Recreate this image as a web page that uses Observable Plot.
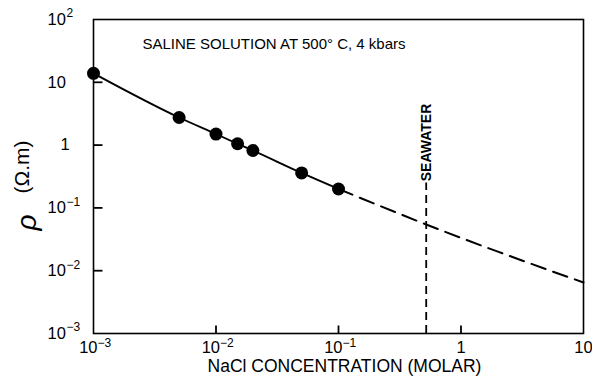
<!DOCTYPE html>
<html>
<head>
<meta charset="utf-8">
<script src="https://cdn.jsdelivr.net/npm/d3@7"></script>
<script src="https://cdn.jsdelivr.net/npm/@observablehq/plot@0.6"></script>
<style>
  html, body { margin: 0; padding: 0; background: #fff; }
  #chart svg { display: block; }
</style>
</head>
<body>
<div id="chart"></div>
<script>
// Measured points (NaCl concentration in molar, resistivity in ohm.m)
const conc = [0.001, 0.005, 0.01, 0.015, 0.02, 0.05, 0.1];
const rho  = [13.9, 2.75, 1.5, 1.05, 0.82, 0.36, 0.2];
// Extrapolated (dashed) curve
const extConc = [0.1, 0.2, 0.52, 1, 2, 5, 10];
const extRho  = [0.2, 0.115, 0.0545, 0.0333, 0.0201, 0.0105, 0.0065];
// Seawater marker
const seawaterConc = 0.52;
const seawaterTop = 0.25;
const seawaterLabelY = 1.1;
// Tick values and labels (base + exponent)
const xTicks = [1e-3, 1e-2, 1e-1, 1, 10];
const xTickBase = ["10", "10", "10", "1", "10"];
const xTickExp  = ["\u22123", "\u22122", "\u22121", "", ""];
const yTicks = [1e-3, 1e-2, 1e-1, 1, 10, 100];
const yTickBase = ["10", "10", "10", "1", "10", "10"];
const yTickExp  = ["\u22123", "\u22122", "\u22121", "", "", "2"];
const xInnerTicks = [1e-2, 1e-1, 1];
const yInnerTicks = [1e-2, 1e-1, 1, 10];

const pts = conc.map((c, i) => ({c, r: rho[i]}));
const ext = extConc.map((c, i) => ({c, r: extRho[i]}));
const xLabels = xTicks.map((t, i) => ({t, base: xTickBase[i], exp: xTickExp[i]}));
const yLabels = yTicks.map((t, i) => ({t, base: yTickBase[i], exp: yTickExp[i]}));

const font = "'Liberation Sans', Arial, sans-serif";
const baseSize = 16.5, expSize = 12;
const W = 592, H = 384, mL = 93, mR = 9, mT = 19, mB = 51;
const xDomain = [1e-3, 10], yDomain = [1e-3, 100];
const yTickLen = 9, xTickLen = 8;

// Standalone scales matching the plot, used to size the inward ticks in pixels
const xs = Plot.scale({x: {type: "log", domain: xDomain, range: [mL, W - mR]}});
const ys = Plot.scale({y: {type: "log", domain: yDomain, range: [H - mB, mT]}});
const yTickEnd = xs.invert(xs.apply(xDomain[0]) + yTickLen);
const xTickEnd = ys.invert(ys.apply(yDomain[0]) - xTickLen);

const chart = Plot.plot({
  width: W,
  height: H,
  marginLeft: mL,
  marginRight: mR,
  marginTop: mT,
  marginBottom: mB,
  style: {fontFamily: font, background: "#fff", color: "#000"},
  x: {type: "log", domain: xDomain, axis: null},
  y: {type: "log", domain: yDomain, axis: null},
  marks: [
    // x tick labels
    Plot.text(xLabels.filter(d => d.exp), {x: "t", frameAnchor: "bottom", dy: 19, dx: 4, text: "base", textAnchor: "end", fontSize: baseSize, fill: "#000"}),
    Plot.text(xLabels.filter(d => d.exp), {x: "t", frameAnchor: "bottom", dy: 13, dx: 4, text: "exp", textAnchor: "start", fontSize: expSize, fill: "#000"}),
    Plot.text(xLabels.filter(d => !d.exp), {x: "t", frameAnchor: "bottom", dy: 19, text: "base", textAnchor: "middle", fontSize: baseSize, fill: "#000"}),
    // y tick labels
    Plot.text(yLabels.filter(d => d.base === "10"), {y: "t", frameAnchor: "left", dx: -46, text: "base", textAnchor: "start", fontSize: baseSize, fill: "#000"}),
    Plot.text(yLabels.filter(d => d.exp), {y: "t", frameAnchor: "left", dx: -27, dy: -6, text: "exp", textAnchor: "start", fontSize: expSize, fill: "#000"}),
    Plot.text(yLabels.filter(d => d.base === "1"), {y: "t", frameAnchor: "left", dx: -33, text: "base", textAnchor: "start", fontSize: baseSize, fill: "#000"}),
    Plot.frame({stroke: "#000", strokeWidth: 1.6}),
    // inward ticks
    Plot.link(xInnerTicks, {x1: d => d, x2: d => d, y1: () => yDomain[0], y2: () => xTickEnd, stroke: "#000", strokeWidth: 1.8}),
    Plot.link(yInnerTicks, {y1: d => d, y2: d => d, x1: () => xDomain[0], x2: () => yTickEnd, stroke: "#000", strokeWidth: 1.8}),
    // seawater
    Plot.ruleX([seawaterConc], {x: d => d, y1: yDomain[0], y2: seawaterTop, stroke: "#000", strokeWidth: 1.8, strokeDasharray: "8,5"}),
    Plot.text(["SEAWATER"], {x: seawaterConc, y: seawaterLabelY, text: d => d, rotate: -90, fontSize: 14, fontWeight: "bold", fill: "#000"}),
    // curves and points
    Plot.line(ext, {x: "c", y: "r", stroke: "#000", strokeWidth: 2, strokeDasharray: "15,8", curve: "monotone-x"}),
    Plot.line(pts, {x: "c", y: "r", stroke: "#000", strokeWidth: 1.9, curve: "monotone-x"}),
    Plot.dot(pts, {x: "c", y: "r", r: 6.5, fill: "#000", stroke: "none"}),
    // annotations
    Plot.text(["SALINE SOLUTION AT 500\u00B0 C, 4 kbars"], {frameAnchor: "top-left", dx: 49, dy: 19, text: d => d, textAnchor: "start", fontSize: 15, fill: "#000"}),
    Plot.text(["NaCl CONCENTRATION (MOLAR)"], {frameAnchor: "bottom", dy: 38, dx: 6, text: d => d, fontSize: 17.5, fill: "#000"}),
    Plot.text(["\u03C1"], {frameAnchor: "left", dx: -66, dy: 54, text: d => d, rotate: -90, fontSize: 28, fontStyle: "italic", fill: "#000"}),
    Plot.text(["(\u03A9.m)"], {frameAnchor: "left", dx: -71, dy: 17, text: d => d, rotate: -90, fontSize: 21, fill: "#000"})
  ]
});
document.getElementById("chart").appendChild(chart);
</script>
</body>
</html>
